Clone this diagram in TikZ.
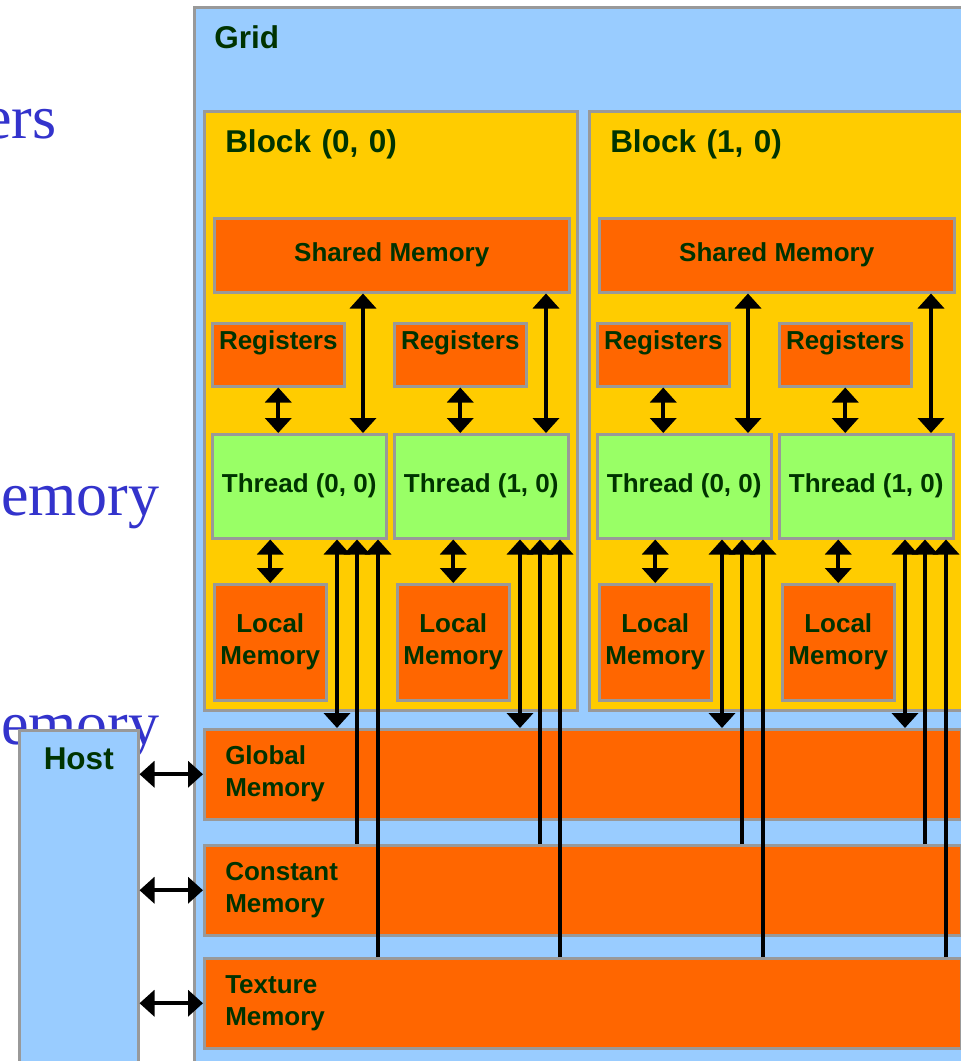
\documentclass[tikz,border=0pt]{standalone}
\usepackage{fontspec}
\setmainfont{Liberation Serif}
\setsansfont{Liberation Sans}
\usetikzlibrary{arrows.meta}
\definecolor{gridblue}{HTML}{99CCFF}
\definecolor{blockyellow}{HTML}{FFCC00}
\definecolor{memorange}{HTML}{FF6600}
\definecolor{threadgreen}{HTML}{99FF66}
\definecolor{edgegray}{HTML}{999999}
\definecolor{labelgreen}{HTML}{003300}
\definecolor{slideblue}{HTML}{3333CC}

\begin{document}
\begin{tikzpicture}[x=0.5pt,y=-0.5pt,>={Triangle[width=13pt,length=7.5pt]},
  link/.style={line width=2pt},
  cell/.style={draw=edgegray,line width=1.25pt,inner sep=0pt,anchor=north west,text=labelgreen,
    font=\sffamily\bfseries\fontsize{13}{16}\selectfont},
  big cell/.style={cell,font=\sffamily\bfseries\fontsize{15.75}{19}\selectfont,align=left,
    inner xsep=10pt,text height=20.5pt},
  shm cell/.style={cell,fill=memorange,minimum width=177.5pt,minimum height=37pt},
  reg cell/.style={cell,fill=memorange,minimum width=66pt,text height=13pt,text depth=18.5pt},
  thr cell/.style={cell,fill=threadgreen,minimum width=87pt,minimum height=52pt},
  loc cell/.style={cell,fill=memorange,minimum width=56pt,minimum height=58pt,align=center},
  mem cell/.style={cell,fill=memorange,minimum height=45pt,inner xsep=10.5pt,text width=357.5pt,align=left},
  slide text/.style={anchor=base east,inner sep=0pt,text=slideblue,font=\fontsize{31}{37}\selectfont}]

  \clip (0,0) rectangle (961,1061);

  % slide text behind the figure
  \node[slide text] (s1) at (57,138) {ers};
  \node[slide text] (s2) at (160,515) {emory};
  \node[slide text] (s3) at (160,744) {emory};

  \node[big cell,fill=gridblue,text width=371pt,text depth=514pt] (grid) at (193,6) {Grid};

  \node[big cell,fill=blockyellow,inner xsep=10.5pt,text width=165.5pt,text depth=279pt] (blk0) at (203,110) {Block (0, 0)};
  \node[big cell,fill=blockyellow,inner xsep=10.5pt,text width=165.5pt,text depth=279pt] (blk1) at (588,110) {Block (1, 0)};

  \node[shm cell] (shm0) at (213,217) {Shared Memory};
  \node[shm cell] (shm1) at (598,217) {Shared Memory};

  \node[reg cell] (reg00) at (211,322) {Registers};
  \node[reg cell] (reg01) at (393,322) {Registers};
  \node[reg cell] (reg10) at (596,322) {Registers};
  \node[reg cell] (reg11) at (778,322) {Registers};

  \node[thr cell] (thr00) at (211,433) {Thread (0, 0)};
  \node[thr cell] (thr01) at (393,433) {Thread (1, 0)};
  \node[thr cell] (thr10) at (596,433) {Thread (0, 0)};
  \node[thr cell] (thr11) at (778,433) {Thread (1, 0)};

  \node[loc cell] (loc00) at (213,583) {Local\\Memory};
  \node[loc cell] (loc01) at (396,583) {Local\\Memory};
  \node[loc cell] (loc10) at (598,583) {Local\\Memory};
  \node[loc cell] (loc11) at (781,583) {Local\\Memory};

  \node[mem cell] (glob) at (203,728) {Global\\Memory};
  \node[mem cell] (const) at (203,844) {Constant\\Memory};
  \node[mem cell] (tex) at (203,957) {Texture\\Memory};

  \node[big cell,fill=gridblue,align=center,inner xsep=0pt,text width=59.5pt,text height=19.5pt,text depth=173pt] (host) at (18,729) {Host};

  % registers and shared memory
  \draw[link,<->] (reg00.south) -- (thr00.north -| reg00.south);
  \draw[link,<->] (reg01.south) -- (thr01.north -| reg01.south);
  \draw[link,<->] (reg10.south) -- (thr10.north -| reg10.south);
  \draw[link,<->] (reg11.south) -- (thr11.north -| reg11.south);
  \draw[link,<->] (shm0.south -| 363,0) -- (thr00.north -| 363,0);
  \draw[link,<->] (shm0.south -| 546,0) -- (thr01.north -| 546,0);
  \draw[link,<->] (shm1.south -| 748,0) -- (thr10.north -| 748,0);
  \draw[link,<->] (shm1.south -| 931,0) -- (thr11.north -| 931,0);

  % local memory
  \draw[link,<->] (thr00.south -| loc00.north) -- (loc00.north);
  \draw[link,<->] (thr01.south -| loc01.north) -- (loc01.north);
  \draw[link,<->] (thr10.south -| loc10.north) -- (loc10.north);
  \draw[link,<->] (thr11.south -| loc11.north) -- (loc11.north);

  % global, constant and texture memory
  \draw[link,<->] (thr00.south -| 337,0) -- (glob.north -| 337,0);
  \draw[link,<->] (thr01.south -| 520,0) -- (glob.north -| 520,0);
  \draw[link,<->] (thr10.south -| 722,0) -- (glob.north -| 722,0);
  \draw[link,<->] (thr11.south -| 905,0) -- (glob.north -| 905,0);
  \draw[link,->] (const.north -| 357,0) -- (thr00.south -| 357,0);
  \draw[link,->] (const.north -| 540,0) -- (thr01.south -| 540,0);
  \draw[link,->] (const.north -| 742,0) -- (thr10.south -| 742,0);
  \draw[link,->] (const.north -| 925,0) -- (thr11.south -| 925,0);
  \draw[link,->] (tex.north -| 378,0) -- (thr00.south -| 378,0);
  \draw[link,->] (tex.north -| 560,0) -- (thr01.south -| 560,0);
  \draw[link,->] (tex.north -| 763,0) -- (thr10.south -| 763,0);
  \draw[link,->] (tex.north -| 946,0) -- (thr11.south -| 946,0);

  % host
  \draw[link,<->] (glob.west -| host.east) -- (glob.west);
  \draw[link,<->] (const.west -| host.east) -- (const.west);
  \draw[link,<->] (tex.west -| host.east) -- (tex.west);
\end{tikzpicture}
\end{document}
